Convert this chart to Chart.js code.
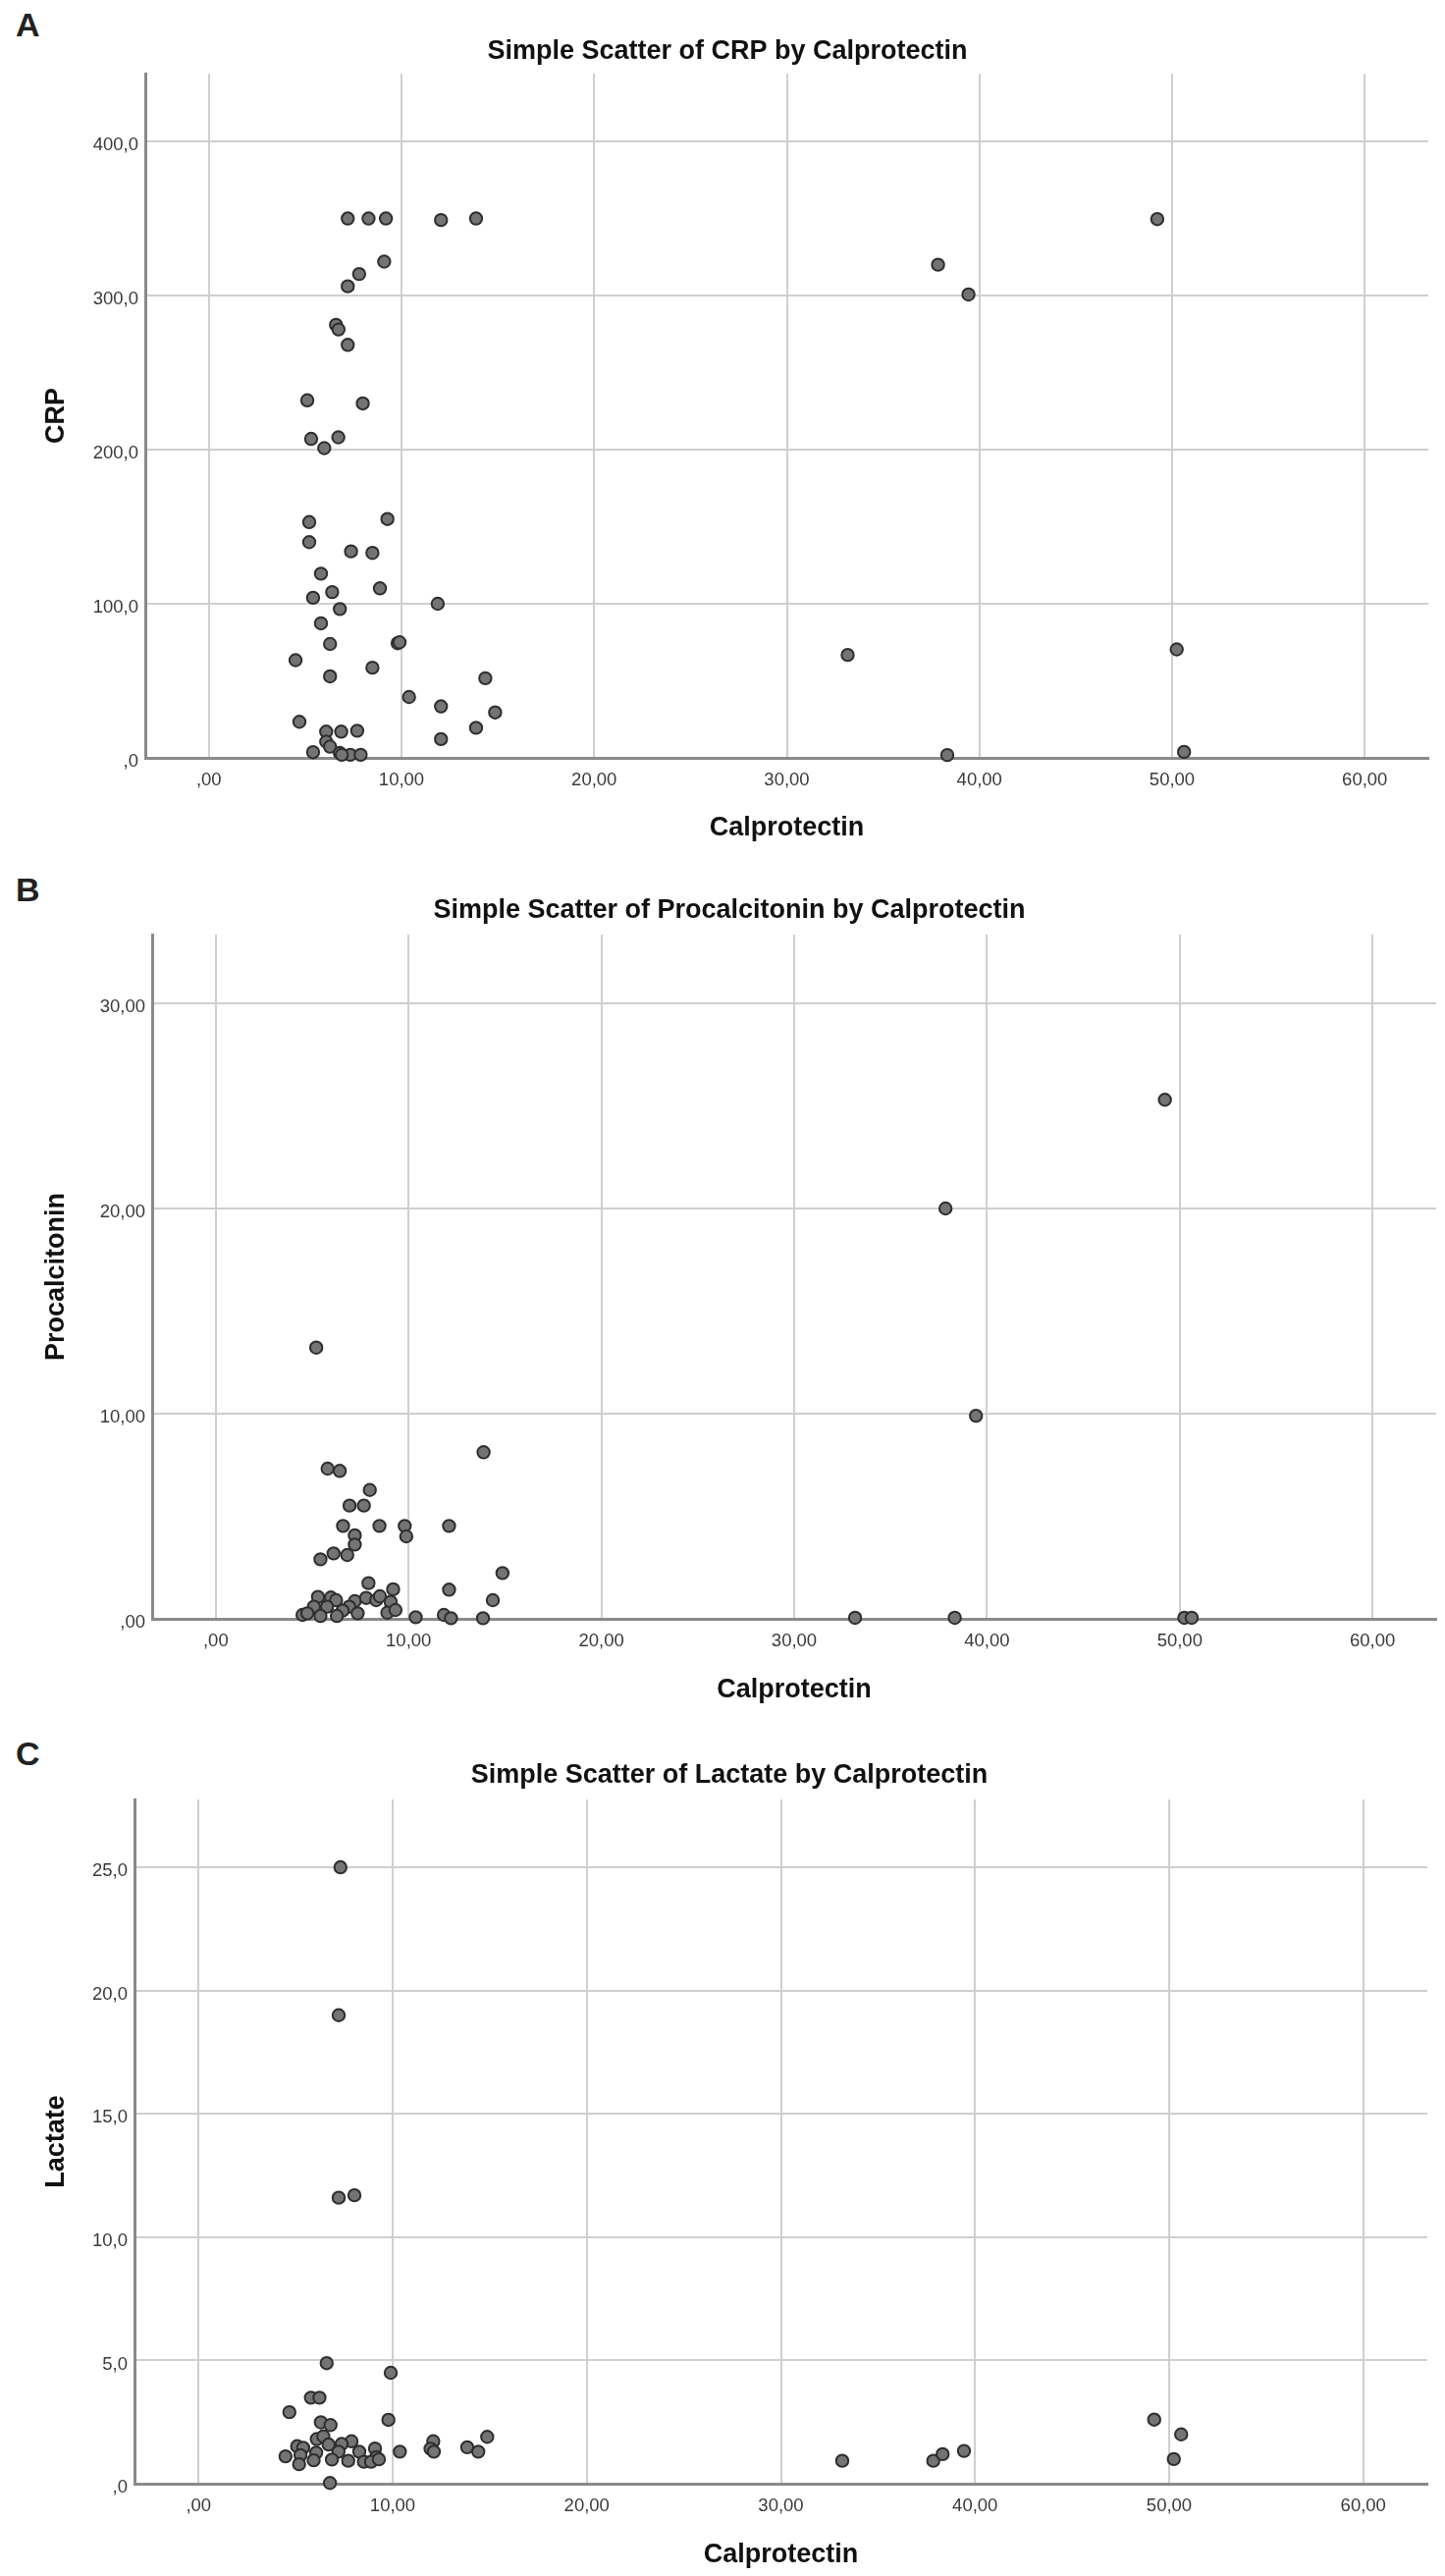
<!DOCTYPE html>
<html>
<head>
<meta charset="utf-8">
<title>Simple Scatter plots by Calprotectin</title>
<script src="https://cdn.jsdelivr.net/npm/chart.js@4.4.1/dist/chart.umd.min.js"></script>
<style>
  body { margin: 0; background: #fff; }
  #page { position: relative; width: 1472px; height: 2624px; }
  canvas { position: absolute; left: 0; }
  .letter { position: absolute; left: 16px; font: bold 34px "Liberation Sans", Arial, sans-serif; line-height: 1; color: #222; }
</style>
</head>
<body>
<div id="page">
  <div class="letter" style="top:8px">A</div>
  <canvas id="chartA" width="1472" height="875" style="top:0"></canvas>
  <div class="letter" style="top:889px">B</div>
  <canvas id="chartB" width="1472" height="875" style="top:875px"></canvas>
  <div class="letter" style="top:1769px">C</div>
  <canvas id="chartC" width="1472" height="874" style="top:1750px"></canvas>
</div>
<script>
// Panel A: CRP by Calprotectin
const calproA = [7.21, 8.29, 9.19, 12.05, 13.87, 9.10, 7.80, 7.21, 6.60, 6.73, 7.21, 5.11, 7.99, 5.31, 6.72,
  5.99, 5.21, 9.27, 5.21, 7.38, 8.49, 5.82, 6.40, 5.41, 8.88, 11.88, 6.80, 5.82, 6.29, 9.80, 9.90, 4.50,
  8.49, 6.29, 14.35, 10.39, 12.05, 14.86, 4.70, 13.87, 12.05, 6.09, 6.87, 7.70, 6.09, 6.29, 5.41, 6.80,
  7.34, 7.88, 6.90, 37.85, 39.43, 49.23, 33.16, 50.24, 38.33, 50.62];
const crp = [350, 350, 350, 349, 350, 322, 314, 306, 281, 278, 268, 232, 230, 207, 208,
  201, 153, 155, 140, 134, 133, 119.5, 107.6, 103.9, 110, 100, 96.6, 87.3, 73.9, 74.4, 75, 63.4,
  58.5, 52.9, 51.7, 39.5, 33.4, 29.5, 23.4, 19.5, 12.2, 17, 17, 17.6, 10.5, 7.3, 3.7, 3.2,
  2, 2, 2, 320, 300.7, 349.6, 66.8, 70.4, 1.8, 3.9];

// Panel B: Procalcitonin by Calprotectin
const calproB = [5.21, 13.89, 5.80, 6.43, 7.99, 6.94, 7.68, 6.60, 8.49, 9.80, 9.88, 12.10, 7.21, 7.21,
  5.43, 6.11, 6.82, 14.87, 7.92, 9.20, 12.10, 14.37, 5.30, 5.97, 6.24, 7.21, 7.80, 8.32, 8.51, 9.07,
  5.09, 5.77, 6.92, 6.58, 7.36, 8.90, 9.32, 4.50, 4.75, 5.43, 6.28, 10.37, 11.83, 12.20, 13.86,
  37.85, 49.23, 39.43, 33.16, 38.33, 50.24, 50.62];
const procalcitonin = [13.22, 8.12, 7.32, 7.21, 6.28, 5.52, 5.52, 4.53, 4.53, 4.53, 4.02, 4.53, 4.07, 3.62,
  2.90, 3.19, 3.11, 2.23, 1.74, 1.44, 1.42, 0.91, 1.07, 1.04, 0.91, 0.86, 1.02, 0.91, 1.10, 0.83,
  0.59, 0.59, 0.59, 0.40, 0.27, 0.30, 0.43, 0.19, 0.27, 0.14, 0.14, 0.08, 0.19, 0.03, 0.03,
  20.0, 25.3, 9.9, 0.05, 0.05, 0.05, 0.05];

// Panel C: Lactate by Calprotectin
const calproC = [7.31, 7.22, 7.22, 8.03, 6.60, 9.90, 5.79, 6.23, 4.68, 9.78, 6.30, 6.80, 14.87, 6.09, 6.43,
  12.09, 7.88, 7.37, 5.08, 5.39, 6.70, 13.84, 11.95, 12.12, 9.09, 10.37, 14.41, 4.48, 5.25, 6.06, 7.21,
  8.28, 9.16, 5.93, 6.87, 7.71, 8.52, 8.89, 9.29, 5.18, 6.77, 33.16, 37.85, 38.33, 39.43, 49.23, 50.62, 50.24];
const lactate = [25.0, 19.0, 11.6, 11.7, 4.89, 4.50, 3.49, 3.49, 2.90, 2.59, 2.49, 2.38, 1.90, 1.81, 1.92,
  1.72, 1.72, 1.61, 1.52, 1.46, 1.59, 1.48, 1.42, 1.30, 1.43, 1.30, 1.30, 1.11, 1.16, 1.26, 1.30,
  1.30, 1.08, 0.95, 0.98, 0.93, 0.89, 0.89, 0.99, 0.79, 0.03, 0.93, 0.93, 1.20, 1.33, 2.60, 2.00, 1.00];

// tick values and their SPSS-style labels
const xTickValues = [0, 10, 20, 30, 40, 50, 60];
const xTickLabels = [',00', '10,00', '20,00', '30,00', '40,00', '50,00', '60,00'];
const crpTickValues = [0, 100, 200, 300, 400];
const crpTickLabels = [',0', '100,0', '200,0', '300,0', '400,0'];
const pctTickValues = [0, 10, 20, 30];
const pctTickLabels = [',00', '10,00', '20,00', '30,00'];
const lacTickValues = [0, 5, 10, 15, 20, 25];
const lacTickLabels = [',0', '5,0', '10,0', '15,0', '20,0', '25,0'];

const FONT = '"Liberation Sans", Arial, sans-serif';
const GRID = '#cfcfcf';
const AXIS = '#8a8a8a';

function fixedTicks(values) {
  return function (axis) {
    axis.ticks = values.map(v => ({ value: v }));
  };
}

function labelFor(values, labels) {
  return function (value) {
    const i = values.indexOf(value);
    return i >= 0 ? labels[i] : '';
  };
}

function makePanel(id, xs, ys, o) {
  const points = xs.map((x, i) => ({ x: x, y: ys[i] }));
  return new Chart(document.getElementById(id), {
    type: 'scatter',
    data: {
      datasets: [{
        data: points,
        backgroundColor: '#747474',
        borderColor: '#2e2e2e',
        borderWidth: 2,
        pointRadius: 6.2,
        pointHoverRadius: 6.2,
        clip: false,
      }]
    },
    options: {
      responsive: false,
      animation: false,
      events: [],
      layout: { padding: { left: o.padLeft, right: o.padRight, top: 0, bottom: 0 } },
      scales: {
        x: {
          type: 'linear',
          min: -3.3,
          max: 63.3,
          afterBuildTicks: fixedTicks(xTickValues),
          afterFit: function (axis) { axis.height = o.xAxisHeight; },
          grid: { color: GRID, lineWidth: 2, drawTicks: false },
          border: { color: AXIS, width: 3 },
          ticks: {
            callback: labelFor(xTickValues, xTickLabels),
            padding: 12,
            maxRotation: 0,
            autoSkip: false,
            color: '#3a3a3a',
            font: { family: FONT, size: 18.5 },
          },
          title: {
            display: true,
            text: 'Calprotectin',
            color: '#111',
            font: { family: FONT, size: 27, weight: 'bold' },
            padding: { top: 0, bottom: o.xTitlePad },
          },
        },
        y: {
          type: 'linear',
          min: 0,
          max: o.yMax,
          afterBuildTicks: fixedTicks(o.yTickValues),
          afterFit: function (axis) { axis.width = o.yAxisWidth; },
          grid: { color: GRID, lineWidth: 2, drawTicks: false },
          border: { color: AXIS, width: 3 },
          ticks: {
            callback: labelFor(o.yTickValues, o.yTickLabels),
            padding: 7,
            labelOffset: 4,
            color: '#3a3a3a',
            font: { family: FONT, size: 18.5 },
          },
          title: {
            display: true,
            text: o.yTitle,
            color: '#111',
            font: { family: FONT, size: 27, weight: 'bold' },
            padding: { top: o.yTitlePad, bottom: 0 },
          },
        },
      },
      plugins: {
        legend: { display: false },
        tooltip: { enabled: false },
        title: {
          display: true,
          text: o.title,
          color: '#111',
          font: { family: FONT, size: 27, weight: 'bold' },
          padding: { top: o.titleTop, bottom: o.titleBottom },
        },
      },
    }
  });
}

makePanel('chartA', calproA, crp, {
  title: 'Simple Scatter of CRP by Calprotectin',
  yTitle: 'CRP',
  yMax: 444,
  yTickValues: crpTickValues,
  yTickLabels: crpTickLabels,
  padLeft: 27, padRight: 17, yAxisWidth: 121, xAxisHeight: 103,
  titleTop: 36.8, titleBottom: 5.8, xTitlePad: 14.8, yTitlePad: 14,
});

makePanel('chartB', calproB, procalcitonin, {
  title: 'Simple Scatter of Procalcitonin by Calprotectin',
  yTitle: 'Procalcitonin',
  yMax: 33.35,
  yTickValues: pctTickValues,
  yTickLabels: pctTickLabels,
  padLeft: 23, padRight: 9, yAxisWidth: 132, xAxisHeight: 101,
  titleTop: 36.8, titleBottom: 7.8, xTitlePad: 11.8, yTitlePad: 18,
});

makePanel('chartC', calproC, lactate, {
  title: 'Simple Scatter of Lactate by Calprotectin',
  yTitle: 'Lactate',
  yMax: 27.75,
  yTickValues: lacTickValues,
  yTickLabels: lacTickLabels,
  padLeft: 32, padRight: 18, yAxisWidth: 105, xAxisHeight: 94,
  titleTop: 42.8, titleBottom: 7.8, xTitlePad: 4.8, yTitlePad: 9,
});
</script>
</body>
</html>
